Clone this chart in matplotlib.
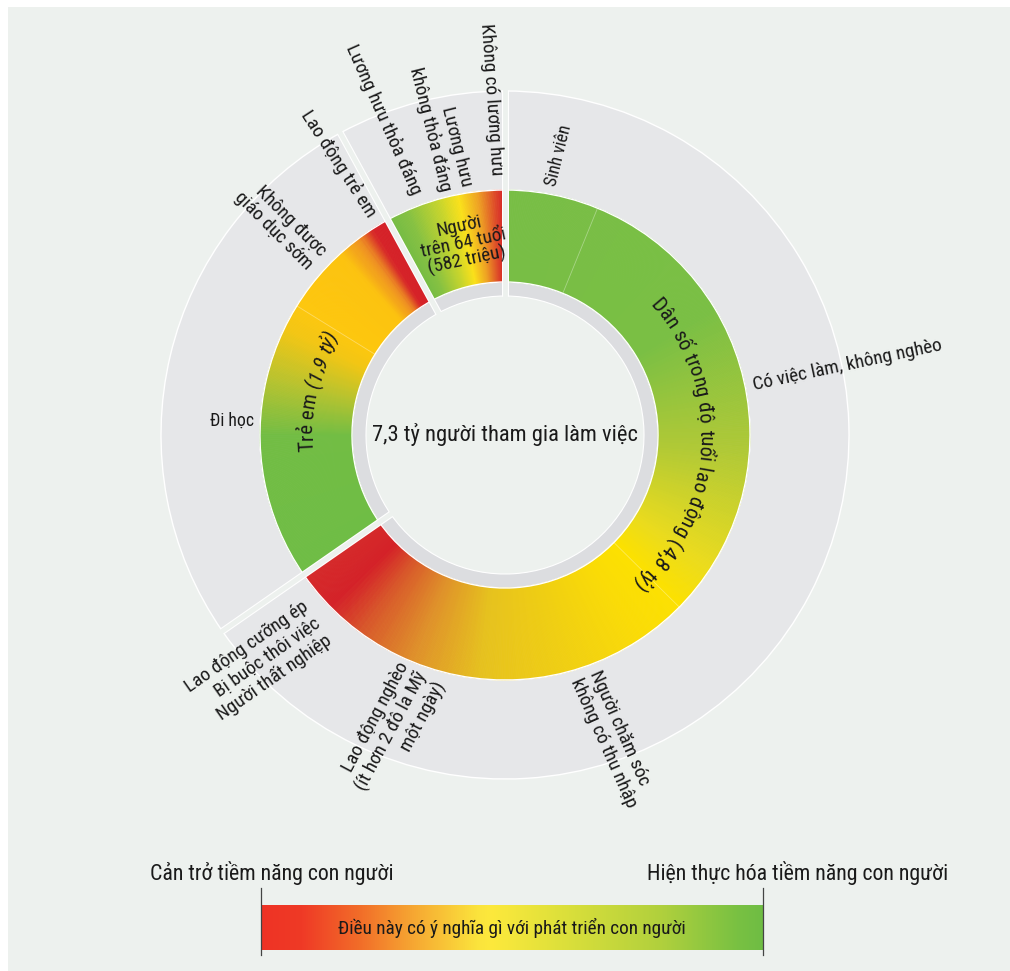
import numpy as np
import matplotlib
matplotlib.use('Agg')
import matplotlib.pyplot as plt
from matplotlib import font_manager as fm
from matplotlib.colors import LinearSegmentedColormap
from matplotlib.patches import Rectangle
from matplotlib.lines import Line2D

# ---------------- data ----------------
center_label = '7,3 tỷ người tham gia làm việc'
group_labels = ['Dân số trong độ tuổi lao động (4,8 tỷ)', 'Trẻ em (1,9 tỷ)',
                'Người\ntrên 64 tuổi\n(582 triệu)']
group_values = [4.77, 1.95, 0.58]

work_sub_labels = ['Sinh viên', 'Có việc làm, không nghèo',
                   'Người chăm sóc\nkhông có thu nhập',
                   'Lao động nghèo\n(ít hơn 2 đô la Mỹ\nmột ngày)',
                   'Người thất nghiệp', 'Bị buộc thôi việc', 'Lao động cưỡng ép']
work_sub_values = [0.45, 2.28, 1.02, 0.72, 0.10, 0.10, 0.10]
child_sub_labels = ['Đi học', 'Không được\ngiáo dục sớm', 'Lao động trẻ em']
child_sub_values = [1.35, 0.45, 0.15]
elder_sub_labels = ['Lương hưu thỏa đáng', 'Lương hưu\nkhông thỏa đáng', 'Không có lương hưu']
elder_sub_values = [0.23, 0.19, 0.16]
sub_values = [work_sub_values, child_sub_values, elder_sub_values]

legend_left = 'Cản trở tiềm năng con người'
legend_right = 'Hiện thực hóa tiềm năng con người'
legend_bar = 'Điều này có ý nghĩa gì với phát triển con người'

# ---------------- style ----------------
BG = '#edf1ee'
GRAY_OUT = '#e6e7e9'
GRAY_IN = '#dcdde0'
TXT = '#1a1a1a'

names = {f.name for f in fm.fontManager.ttflist}
if 'Liberation Sans Narrow' in names:
    FONT, K = 'Liberation Sans Narrow', 1 / 0.82
elif 'Roboto Condensed' in names:
    FONT, K = 'Roboto Condensed', 1.135
else:
    FONT, K = 'Liberation Sans', 1.0
plt.rcParams['font.family'] = [FONT, 'DejaVu Sans']


def fs(px):
    return px * 0.72 * K


# gradient stops (fraction within group, colour)
grad_stops = [
    [(0.00, '#78be45'), (0.25, '#7abf44'), (0.40, '#b0c936'), (0.52, '#eadb1e'),
     (0.57, '#fde100'), (0.62, '#fbdc06'), (0.79, '#e6c21e'), (0.86, '#df922a'),
     (0.92, '#d8582a'), (0.96, '#d42128'), (1.00, '#d52a2a')],
    [(0.00, '#6fbd45'), (0.36, '#72bd44'), (0.50, '#b7c32f'), (0.63, '#f3c614'),
     (0.70, '#fec70e'), (0.86, '#fdc30f'), (0.92, '#ee8f22'), (0.96, '#d62228'),
     (1.00, '#d42128')],
    [(0.00, '#72bb44'), (0.18, '#86c142'), (0.45, '#c8d52c'), (0.62, '#fbe11a'),
     (0.78, '#eea123'), (0.92, '#de4a28'), (1.00, '#d52128')],
]
divider_after = [[0, 1], [0], []]   # faint lines inside coloured ring

R_IN0, R_IN1 = 139, 153
R_C1 = 245
R_OUT = 344

W, H = 1010, 971
CX, CY, RMAX = 505, 435, 500

fig = plt.figure(figsize=(W / 100, H / 100), dpi=100)
fig.patch.set_facecolor('white')
fig.add_artist(Rectangle((8 / W, 0), 1 - 8 / W, 1 - 7 / H, transform=fig.transFigure,
                         facecolor=BG, edgecolor='none', zorder=-10))

ax = fig.add_axes([(CX - RMAX) / W, (H - CY - RMAX) / H, 2 * RMAX / W, 2 * RMAX / H],
                  projection='polar')
ax.set_theta_zero_location('N')
ax.set_theta_direction(-1)
ax.set_axis_off()

total = sum(group_values)
dpv = 360.0 / total
starts = np.concatenate([[0], np.cumsum(group_values)[:-1]]) * dpv
spans = np.array(group_values) * dpv

for g in range(3):
    s, w = starts[g], spans[g]
    # inner and outer gray rings
    ax.bar(np.radians(s), R_IN1 - R_IN0, width=np.radians(w), bottom=R_IN0, align='edge',
           color=GRAY_IN, edgecolor='white', linewidth=0.8, zorder=2)
    ax.bar(np.radians(s), R_OUT - R_C1, width=np.radians(w), bottom=R_C1, align='edge',
           color=GRAY_OUT, edgecolor='white', linewidth=1.0, zorder=2)
    # gradient coloured ring
    pos = [p for p, c in grad_stops[g]]
    cols = [c for p, c in grad_stops[g]]
    cmap = LinearSegmentedColormap.from_list('g%d' % g, list(zip(pos, cols)))
    n = max(int(w * 3), 10)
    edges = np.linspace(s, s + w, n + 1)
    mids = (np.arange(n) + 0.5) / n
    colors = cmap(mids)
    ax.bar(np.radians(edges[:-1]), R_C1 - R_IN1, width=np.radians(np.diff(edges)),
           bottom=R_IN1, align='edge', color=colors, edgecolor=colors, linewidth=0.6,
           zorder=2.5)
    ax.bar(np.radians(s), R_C1 - R_IN1, width=np.radians(w), bottom=R_IN1, align='edge',
           facecolor='none', edgecolor='white', linewidth=1.0, zorder=3)
    # faint sub dividers
    cum = s + np.cumsum(sub_values[g]) * dpv
    for i in divider_after[g]:
        t = np.radians(cum[i])
        ax.plot([t, t], [R_IN1, R_C1], color='white', alpha=0.35, lw=0.6, zorder=3)

# gaps between groups
for g in range(3):
    t = np.radians(starts[g])
    ax.plot([t, t], [R_IN0, R_OUT + 0.5], color='white', lw=7 * 0.72,
            solid_capstyle='butt', zorder=4)
    ax.plot([t, t], [120, 380], color=BG, lw=4.8 * 0.72, solid_capstyle='butt', zorder=4.1)

# ---------- curved labels ----------
try:
    from matplotlib.ft2font import FT2Font, LoadFlags
    NOHINT = LoadFlags.NO_HINTING
except Exception:
    from matplotlib.ft2font import FT2Font, LOAD_NO_HINTING as NOHINT
fonts = {}
for st in ('normal', 'italic'):
    path = fm.findfont(fm.FontProperties(family=FONT, style=st))
    fonts[st] = FT2Font(path)


def advance(c, size_pt, st):
    f = fonts[st]
    f.set_size(size_pt, 100)
    gl = f.load_char(ord(c), flags=NOHINT)
    return gl.linearHoriAdvance / 65536.0


def arc_text(s, b_center, r_mid, px, italic_from=None):
    size = fs(px)
    styles = ['italic' if (italic_from is not None and i >= italic_from) else 'normal'
              for i in range(len(s))]
    adv = [advance(c, size, st) for c, st in zip(s, styles)]
    L = sum(adv)
    cap = px * 0.70
    r_base = r_mid - cap / 2
    start = b_center - np.degrees(L / r_base) / 2
    p = 0.0
    for c, a, st in zip(s, adv, styles):
        b = start + np.degrees((p + a / 2) / r_base)
        ax.text(np.radians(b), r_base, c, rotation=-b, ha='center', va='baseline',
                rotation_mode='anchor', fontsize=size, style=st, color=TXT, zorder=6)
        p += a


arc_text(group_labels[0], 93.5, 201, 18.5)
arc_text(group_labels[1], 283, 199, 18.5, italic_from=group_labels[1].index('('))
ax.text(np.radians(347.7), 196, group_labels[2], rotation=12, ha='center', va='center',
        rotation_mode='anchor', multialignment='center', linespacing=0.95,
        fontsize=fs(17), color=TXT, zorder=6)

# ---------- outer labels ----------
# (text, bearing, radius, rotation, ha, size px)
outer_layout = [
    (work_sub_labels[0], 10.5, 253, 76, 'left', 15.5),
    (work_sub_labels[1], 78.6, 253, 12, 'left', 17),
    (work_sub_labels[2], 161.6, 253, -66, 'left', 17),
    (work_sub_labels[3], 199.0, 252, 62, 'right', 17),
    ('\n'.join(work_sub_labels[4:][::-1]), 225.0, 264, 35, 'right', 17),
    (child_sub_labels[0], 273.0, 273, 0, 'center', 15.5),
    (child_sub_labels[1], 312.8, 257, -45, 'right', 17),
    (child_sub_labels[2], 328.8, 257, -57, 'right', 17),
    (elder_sub_labels[0], 340.0, 257, -66, 'right', 17),
    (elder_sub_labels[1], 348.8, 251, -76, 'right', 17),
    (elder_sub_labels[2], 358.2, 260, -86, 'right', 17),
]
for txt, b, r, rot, ha, px in outer_layout:
    ax.text(np.radians(b), r, txt, rotation=rot, ha=ha, va='center', rotation_mode='anchor',
            multialignment=ha if ha != 'center' else 'center', linespacing=1.15,
            fontsize=fs(px), color=TXT, zorder=6)

ax.text(0, 0, center_label, ha='center', va='center', fontsize=fs(19.8), color=TXT, zorder=6)
ax.set_ylim(0, RMAX)

# ---------- legend ----------
leg_stops = [(0.0, '#ee3325'), (0.08, '#ef3a26'), (0.2, '#f26f29'), (0.3, '#f6a632'),
             (0.43, '#fbe33c'), (0.46, '#fde93c'), (0.6, '#dde03a'), (0.8, '#b0d03d'),
             (0.95, '#79c142'), (1.0, '#6fbd44')]
lcmap = LinearSegmentedColormap.from_list('leg', leg_stops)
ax2 = fig.add_axes([261 / W, (H - 950) / H, (763 - 261) / W, 45 / H])
ax2.imshow(np.linspace(0, 1, 512)[None, :], aspect='auto', cmap=lcmap, extent=[0, 1, 0, 1])
ax2.set_axis_off()
ax2.text(0.5, 0.5, legend_bar, ha='center', va='center', fontsize=fs(17), color=TXT,
         transform=ax2.transAxes)
for xp in (261, 763):
    fig.add_artist(Line2D([xp / W, xp / W], [(H - 955) / H, (H - 888) / H],
                          color='#444444', lw=0.9, transform=fig.transFigure))
fig.text(150 / W, (H - 873) / H, legend_left, ha='left', va='center', fontsize=fs(19.3),
         color=TXT)
fig.text(948 / W, (H - 873) / H, legend_right, ha='right', va='center', fontsize=fs(19.3),
         color=TXT)

fig.savefig('out.png', dpi=100, facecolor=fig.get_facecolor())
